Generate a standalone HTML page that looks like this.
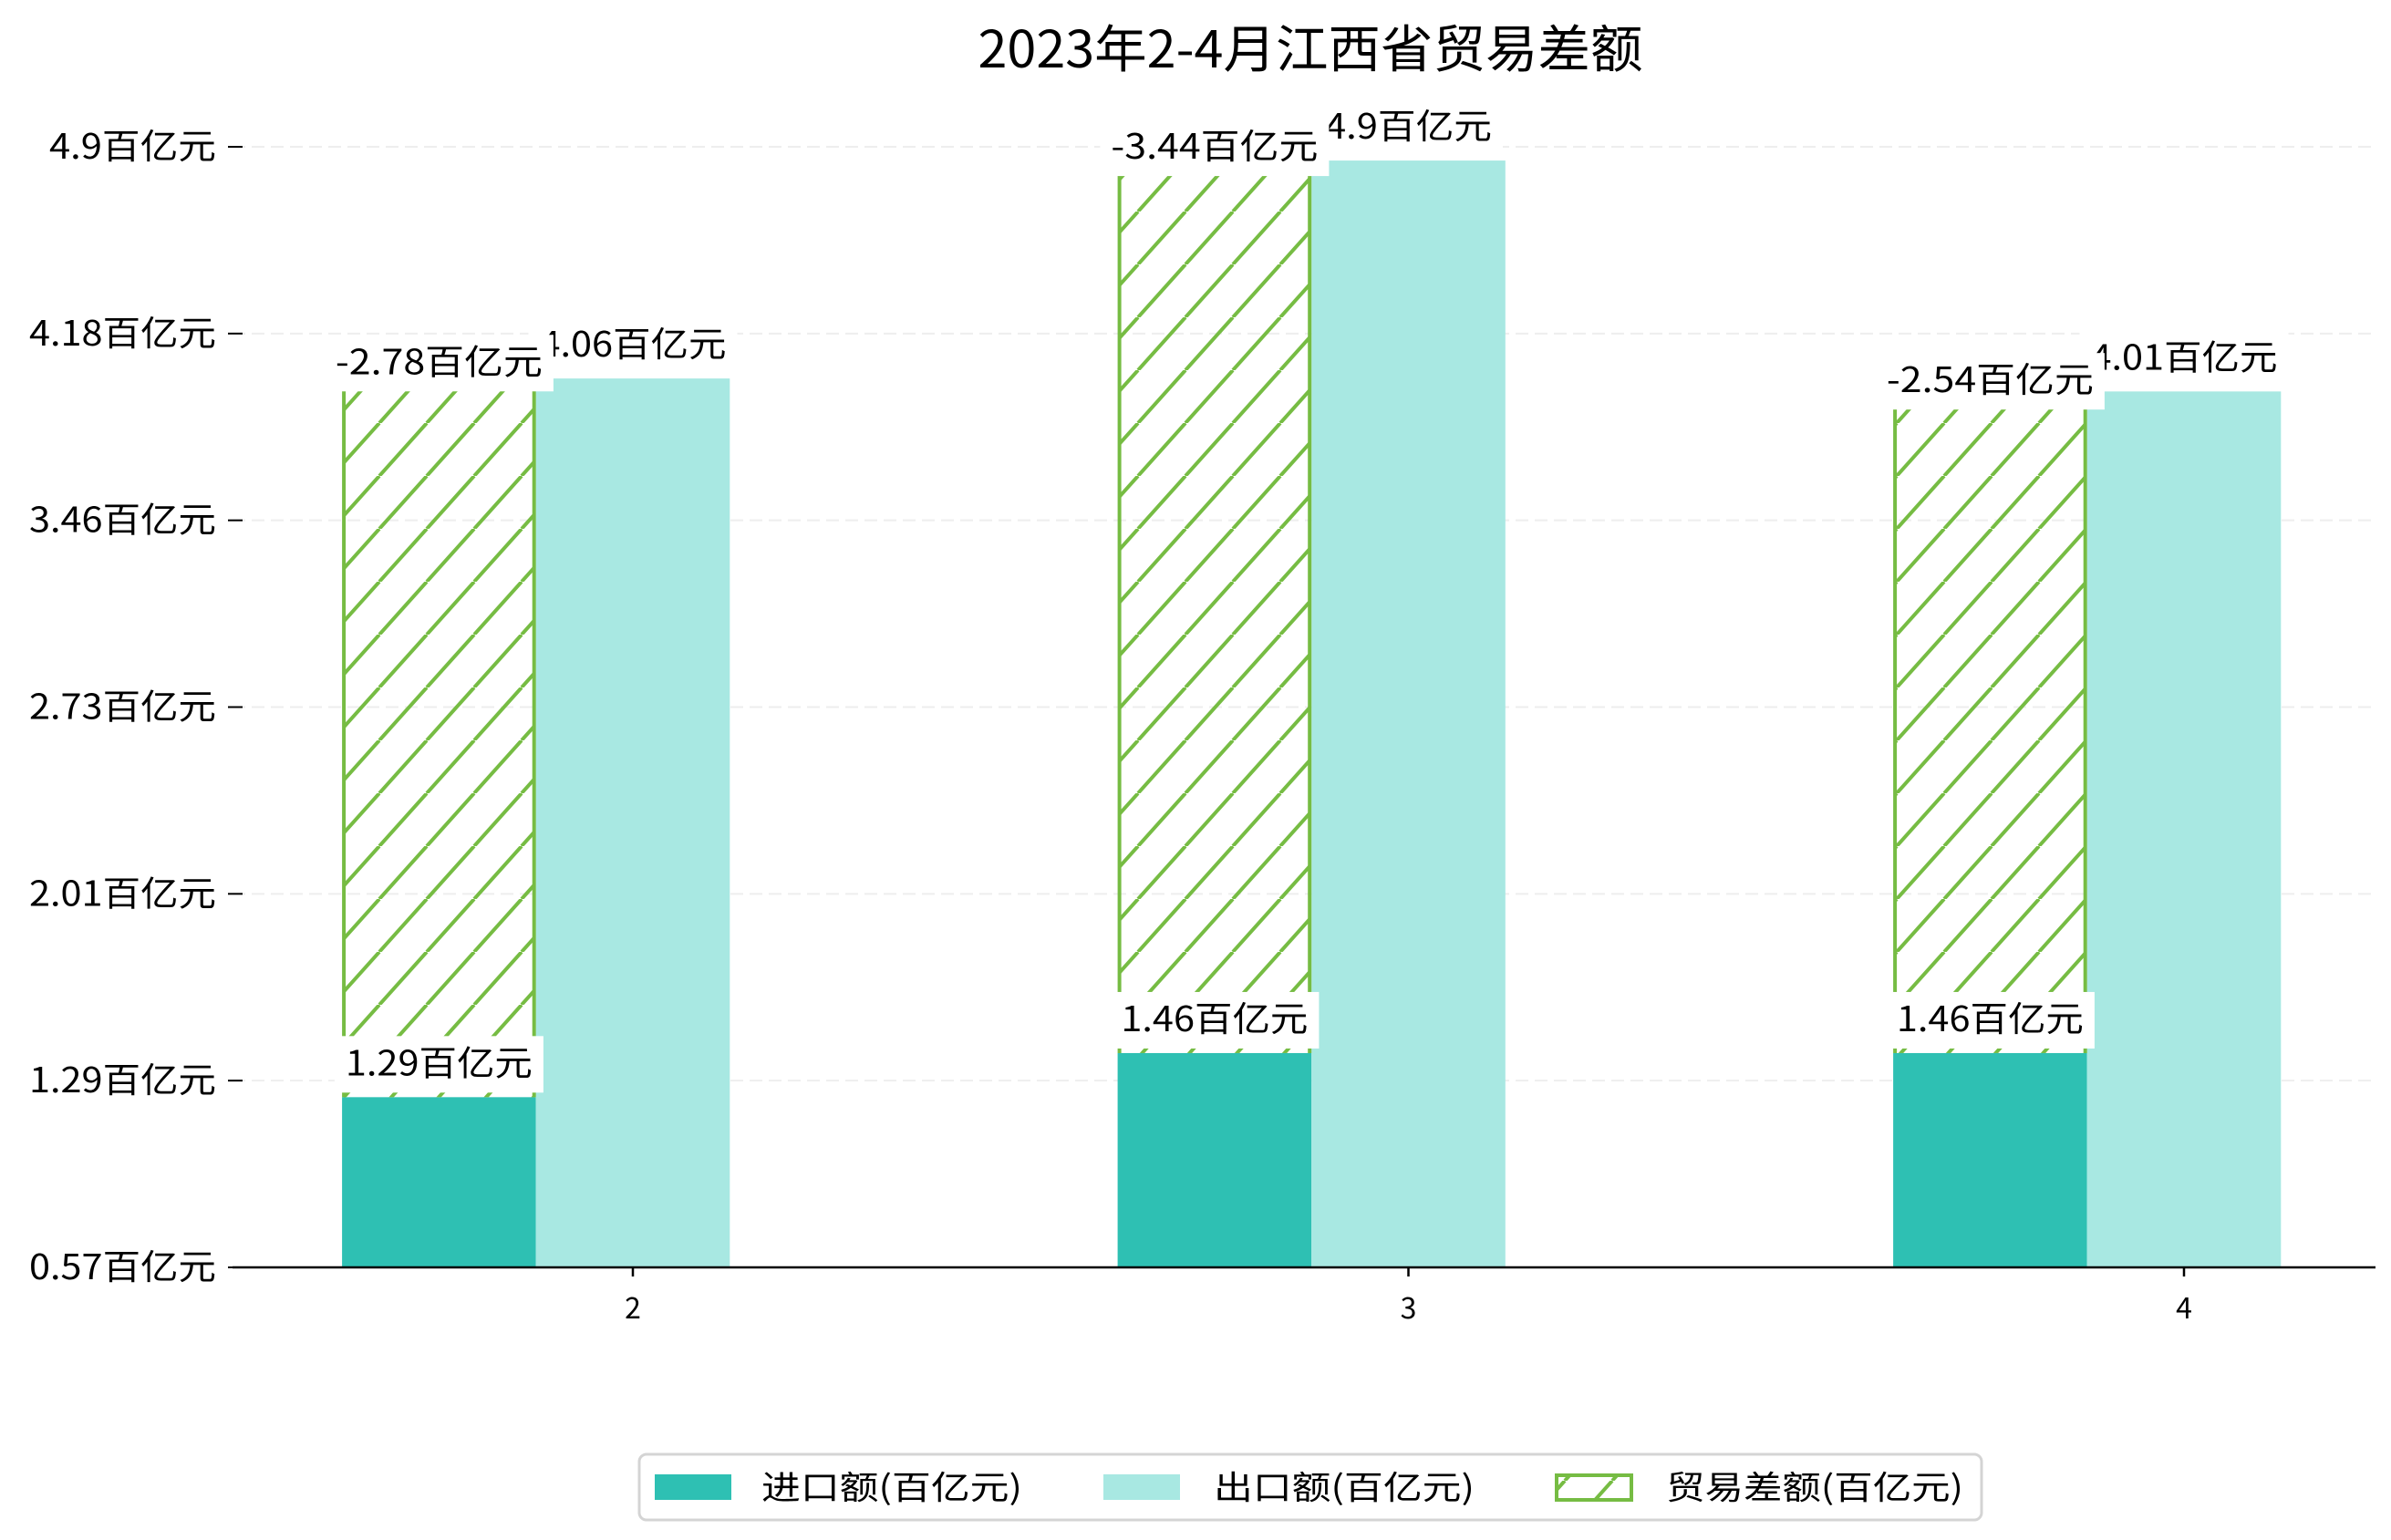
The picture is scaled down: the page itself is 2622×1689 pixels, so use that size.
<!DOCTYPE html>
<html><head><meta charset="utf-8">
<style>
html,body{margin:0;padding:0;background:#fff;}
svg{display:block;font-family:"WenQuanYi Zen Hei","Noto Sans CJK SC",sans-serif;}
</style></head>
<body>
<svg id="chart" width="2622" height="1689" viewBox="0 0 2622 1689" xmlns="http://www.w3.org/2000/svg">
<defs>
<pattern id="hatch" patternUnits="userSpaceOnUse" width="52" height="58">
<line x1="0" y1="58" x2="52" y2="0" stroke="#76bc43" stroke-width="4"/>
<line x1="-52" y1="58" x2="0" y2="0" stroke="#76bc43" stroke-width="4"/>
<line x1="52" y1="58" x2="104" y2="0" stroke="#76bc43" stroke-width="4"/>
</pattern>
</defs>
<text x="1437" y="74" text-anchor="middle" font-size="56" textLength="729" lengthAdjust="spacingAndGlyphs" fill="#000">2023年2-4月江西省贸易差额</text>
<g id="grid"></g>
<g id="yaxis"></g>
<g id="bars"></g>
<g id="labels"></g>
<g id="xaxis"></g>
<g>
<rect x="701" y="1595" width="1472" height="72" rx="8" fill="#fff" stroke="#d4d4d4" stroke-width="3"/>
<rect x="718" y="1617" width="84" height="28" fill="#2ec0b3"/>
<text x="835" y="1644" font-size="36" textLength="286" lengthAdjust="spacingAndGlyphs">进口额(百亿元)</text>
<rect x="1210" y="1617" width="84" height="28" fill="#a8e8e2"/>
<text x="1331" y="1644" font-size="36" textLength="286" lengthAdjust="spacingAndGlyphs">出口额(百亿元)</text>
<rect x="1707" y="1618" width="82" height="27" fill="url(#hatch)" stroke="#76bc43" stroke-width="4"/>
<text x="1827" y="1644" font-size="36" textLength="326" lengthAdjust="spacingAndGlyphs">贸易差额(百亿元)</text>
</g>
</svg>
<script>
const categories = ['2','3','4'];
const importVals = [1.29, 1.46, 1.46];
const exportVals = [4.06, 4.9, 4.01];
const balanceVals = [-2.78, -3.44, -2.54];
const yTickLabels = ['0.57','1.29','2.01','2.73','3.46','4.18','4.9'];
const yDomain = [0.634, 4.953];

const NS = 'http://www.w3.org/2000/svg';
const plotBottom = 1390, plotTop = 161, axisLeft = 255, axisRight = 2605;
function y(v){ return plotBottom - (v - yDomain[0]) / (yDomain[1] - yDomain[0]) * (plotBottom - plotTop); }
const firstCenter = 694, step = 850.5, barW = 212.6;
function xc(i){ return firstCenter + i * step; }
function mk(tag, attrs, parent){ const e = document.createElementNS(NS, tag); for (const k in attrs) e.setAttribute(k, attrs[k]); parent.appendChild(e); return e; }
function textLen(s){ let a=0,c=0; for (const ch of s){ if (ch.charCodeAt(0) < 128) a++; else c++; } return a*22 + c*39; }

const grid = document.getElementById('grid'), yaxis = document.getElementById('yaxis');
yTickLabels.forEach((lab, i) => {
  const v = yDomain[0] + i * (yDomain[1] - yDomain[0]) / (yTickLabels.length - 1);
  const yy = y(v);
  if (i > 0) {
    const g = mk('line', {x1: axisLeft, x2: axisRight, y1: yy, y2: yy, stroke: '#eeeeee', 'stroke-width': 2, 'stroke-dasharray': '14 7'}, grid);
    
    
  }
  const t = mk('line', {x1: 250, x2: 266, y1: yy, y2: yy, stroke: '#000', 'stroke-width': 2}, yaxis);
  
  
  const s = lab + '百亿元';
  const tx = mk('text', {x: 237, y: yy + 13, 'text-anchor': 'end', 'font-size': 38, textLength: textLen(s), lengthAdjust: 'spacingAndGlyphs'}, yaxis);
  tx.textContent = s;
  
  
});

const bars = document.getElementById('bars'), labels = document.getElementById('labels');
const pending = [];
categories.forEach((c, i) => {
  const cx = xc(i);
  const ix = cx - 1.5 * barW, ex = cx - 0.5 * barW;
  const ib = mk('rect', {x: ix, y: y(importVals[i]), width: barW, height: plotBottom - y(importVals[i]), fill: '#2ec0b3'}, bars);
  
  
  const eb = mk('rect', {x: ex, y: y(exportVals[i]), width: barW, height: plotBottom - y(exportVals[i]), fill: '#a8e8e2'}, bars);
  
  
  const top = importVals[i] + Math.abs(balanceVals[i]);
  const hb = mk('rect', {x: ix + 2, y: y(top), width: barW - 4, height: y(importVals[i]) - y(top), fill: 'url(#hatch)'}, bars);
  
  
  const l1 = mk('line', {x1: ix + 2, x2: ix + 2, y1: y(top), y2: y(importVals[i]), stroke: '#76bc43', 'stroke-width': 4}, bars);
  
  
  const l2 = mk('line', {x1: ix + barW - 2, x2: ix + barW - 2, y1: y(top), y2: y(importVals[i]), stroke: '#76bc43', 'stroke-width': 4}, bars);
  
  
  pending.push({s: importVals[i] + '百亿元', x: ix + barW/2, cy: y(importVals[i]) - 37, n: 'import-label-' + c});
  pending.push({s: exportVals[i] + '百亿元', x: cx, cy: y(exportVals[i]) - 37, n: 'export-label-' + c});
  pending.push({s: balanceVals[i] + '百亿元', x: ix + barW/2, cy: y(top) - 15, n: 'balance-label-' + c});
});
pending.forEach(p => {
  const w = textLen(p.s);
  const bx = mk('rect', {x: p.x - w/2 - 12, y: p.cy - 30, width: w + 24, height: 62, fill: '#fff'}, labels);
  
  
  const t = mk('text', {x: p.x, y: p.cy + 13, 'text-anchor': 'middle', 'font-size': 38, textLength: w, lengthAdjust: 'spacingAndGlyphs'}, labels);
  t.textContent = p.s;
  
  
});

const xaxis = document.getElementById('xaxis');
const al = mk('line', {x1: axisLeft, x2: axisRight, y1: plotBottom, y2: plotBottom, stroke: '#000', 'stroke-width': 2.5}, xaxis);


categories.forEach((c, i) => {
  const tk = mk('line', {x1: xc(i), x2: xc(i), y1: plotBottom, y2: plotBottom + 10, stroke: '#000', 'stroke-width': 2.5}, xaxis);
  
  
  const t = mk('text', {x: xc(i), y: 1446, 'text-anchor': 'middle', 'font-size': 32}, xaxis);
  t.textContent = c;
  
  
});
</script>
</body></html>
